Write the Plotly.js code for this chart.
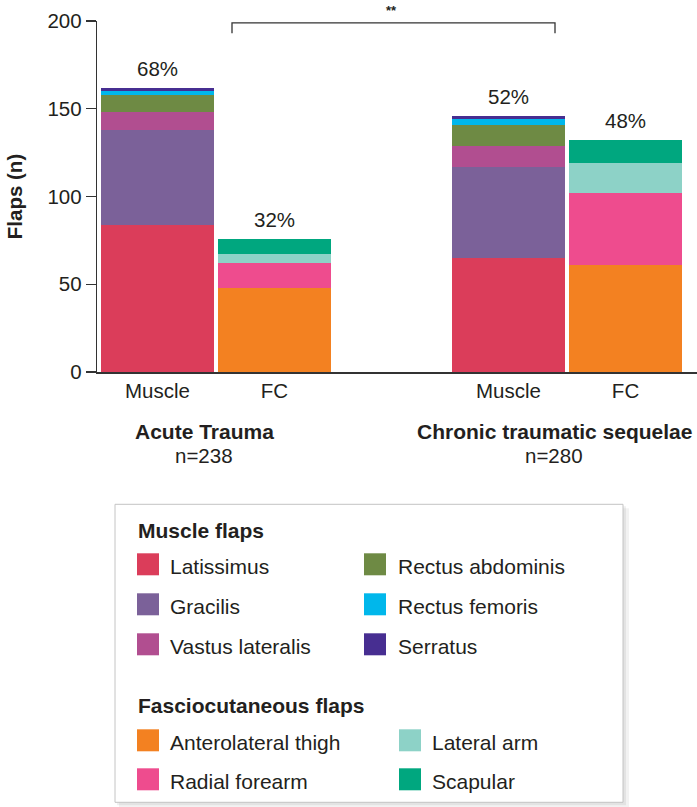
<!DOCTYPE html>
<html>
<head>
<meta charset="utf-8">
<script src="https://cdn.plot.ly/plotly-3.0.1.min.js"></script>
<style>html,body{margin:0;padding:0;background:#fff;}#chart{width:697px;height:807px;}</style>
</head>
<body>
<div id="chart"></div>
<script>
// ---- data ----
const categories = ["Acute Trauma", "Chronic traumatic sequelae"];
const groupN = ["n=238", "n=280"];
const barTypes = ["Muscle", "FC"];

const muscleNames = ["Latissimus", "Gracilis", "Vastus lateralis", "Rectus abdominis", "Rectus femoris", "Serratus"];
const muscleColors = ["#db3d5a", "#7b6199", "#b14e90", "#6e8a44", "#00b7eb", "#472e91"];
const latissimus = [84, 65];
const gracilis = [54, 52];
const vastusLateralis = [10, 12];
const rectusAbdominis = [10, 12];
const rectusFemoris = [2, 3];
const serratus = [2, 2];
const muscleValues = [latissimus, gracilis, vastusLateralis, rectusAbdominis, rectusFemoris, serratus];

const fcNames = ["Anterolateral thigh", "Radial forearm", "Lateral arm", "Scapular"];
const fcColors = ["#f38121", "#ee4c8e", "#8dd2c7", "#00a77f"];
const anterolateralThigh = [48, 61];
const radialForearm = [14, 41];
const lateralArm = [5, 17];
const scapular = [9, 13];
const fcValues = [anterolateralThigh, radialForearm, lateralArm, scapular];

const musclePct = ["68%", "52%"];
const fcPct = ["32%", "48%"];
const significance = "**";
const yTicks = [0, 50, 100, 150, 200];

// ---- layout helpers ----
const W = 697, H = 807;
const M = {l: 97, r: 0, t: 20.7, b: 435.3};
const PW = W - M.l - M.r, PH = H - M.t - M.b;
const px = x => (x - M.l) / PW;
const py = y => (H - M.b - y) / PH;
const FONT = '"Liberation Sans", Arial, Helvetica, sans-serif';
const TXT = '#231f20';

const musclePos = categories.map((c, g) => 3 * g);
const fcPos = categories.map((c, g) => 3 * g + 1);
const BW = 0.966;

const traces = [];
muscleNames.forEach((n, i) => traces.push({
  type: 'bar', name: n, x: musclePos, y: muscleValues[i], width: BW,
  marker: {color: muscleColors[i], line: {width: 0}}, showlegend: false, hoverinfo: 'skip'
}));
fcNames.forEach((n, i) => traces.push({
  type: 'bar', name: n, x: fcPos, y: fcValues[i], width: BW,
  marker: {color: fcColors[i], line: {width: 0}}, showlegend: false, hoverinfo: 'skip'
}));

const sum = (arrs, g) => arrs.reduce((s, a) => s + a[g], 0);
const annotations = [];
categories.forEach((c, g) => {
  annotations.push({x: musclePos[g], y: sum(muscleValues, g), text: musclePct[g], showarrow: false,
    yanchor: 'bottom', yshift: 6, font: {family: FONT, size: 20.5, color: TXT}});
  annotations.push({x: fcPos[g], y: sum(fcValues, g), text: fcPct[g], showarrow: false,
    yanchor: 'bottom', yshift: 6, font: {family: FONT, size: 20.5, color: TXT}});
});
// group labels
const groupCenterPx = [204, 554];
categories.forEach((c, g) => {
  annotations.push({xref: 'paper', yref: 'paper', x: px(groupCenterPx[g]), y: py(431), text: '<b>' + c + '</b>',
    showarrow: false, xanchor: 'center', yanchor: 'middle', font: {family: FONT, size: 21, color: TXT}});
  annotations.push({xref: 'paper', yref: 'paper', x: px(groupCenterPx[g]), y: py(455.5), text: groupN[g],
    showarrow: false, xanchor: 'center', yanchor: 'middle', font: {family: FONT, size: 20.5, color: TXT}});
});
// significance
annotations.push({xref: 'paper', yref: 'paper', x: px(391), y: py(10), text: '<b>' + significance + '</b>',
  showarrow: false, xanchor: 'center', yanchor: 'middle', font: {family: FONT, size: 13, color: TXT}});

const shapes = [];
shapes.push({type: 'path', xref: 'paper', yref: 'paper',
  path: `M${px(232)},${py(33)} L${px(232)},${py(22.5)} L${px(555)},${py(22.5)} L${px(555)},${py(33)}`,
  line: {color: '#333', width: 1.3}});

// legend box
shapes.push({type: 'rect', xref: 'paper', yref: 'paper', x0: px(119), x1: px(629), y0: py(508), y1: py(807),
  fillcolor: 'rgba(0,0,0,0.05)', line: {width: 0}});
shapes.push({type: 'rect', xref: 'paper', yref: 'paper', x0: px(117), x1: px(626), y0: py(506), y1: py(805),
  fillcolor: 'rgba(0,0,0,0.06)', line: {width: 0}});
shapes.push({type: 'rect', xref: 'paper', yref: 'paper', x0: px(115), x1: px(623), y0: py(504), y1: py(802),
  fillcolor: '#fff', line: {color: '#c4c4c4', width: 1}});

const legendItem = (name, color, sx, tx, cy) => {
  shapes.push({type: 'rect', xref: 'paper', yref: 'paper', x0: px(sx), x1: px(sx + 22), y0: py(cy - 11), y1: py(cy + 11),
    fillcolor: color, line: {width: 0}});
  annotations.push({xref: 'paper', yref: 'paper', x: px(tx), y: py(cy + 2), text: name, showarrow: false,
    xanchor: 'left', yanchor: 'middle', font: {family: FONT, size: 21, color: TXT}});
};
annotations.push({xref: 'paper', yref: 'paper', x: px(136), y: py(530), text: '<b>Muscle flaps</b>', showarrow: false,
  xanchor: 'left', yanchor: 'middle', font: {family: FONT, size: 21, color: TXT}});
annotations.push({xref: 'paper', yref: 'paper', x: px(136), y: py(705), text: '<b>Fasciocutaneous flaps</b>', showarrow: false,
  xanchor: 'left', yanchor: 'middle', font: {family: FONT, size: 21, color: TXT}});
const mRows = [564, 604, 644];
muscleNames.forEach((n, i) => {
  const col = Math.floor(i / 3), row = i % 3;
  legendItem(n, muscleColors[i], col ? 364 : 137, col ? 396 : 168, mRows[row]);
});
const fRows = [740, 779];
fcNames.forEach((n, i) => {
  const col = Math.floor(i / 2), row = i % 2;
  legendItem(n, fcColors[i], col ? 399 : 137, col ? 430 : 168, fRows[row]);
});

const layout = {
  width: W, height: H, margin: M, barmode: 'stack', bargap: 0,
  paper_bgcolor: '#fff', plot_bgcolor: '#fff', showlegend: false, hovermode: false,
  font: {family: FONT, color: TXT, size: 20.5},
  xaxis: {range: [-0.517, 4.611], tickvals: fcPos.map((p, g) => [musclePos[g], fcPos[g]]).flat(),
    ticktext: categories.map(() => barTypes).flat(), showgrid: false, zeroline: false,
    showline: true, linecolor: '#333', linewidth: 1.5, ticks: '', tickfont: {size: 20.5, color: TXT}},
  yaxis: {range: [0, 200], tickvals: yTicks, showgrid: false, zeroline: false, showline: true,
    linecolor: '#333', linewidth: 1.3, ticks: 'outside', ticklen: 10, tickcolor: '#333', tickwidth: 1.3,
    tickfont: {size: 20.5, color: TXT},
    title: {text: '<b>Flaps (n)</b>', standoff: 19, font: {size: 20.5, color: TXT}}},
  shapes: shapes, annotations: annotations
};
Plotly.newPlot('chart', traces, layout, {staticPlot: true, displayModeBar: false});
</script>
</body>
</html>
